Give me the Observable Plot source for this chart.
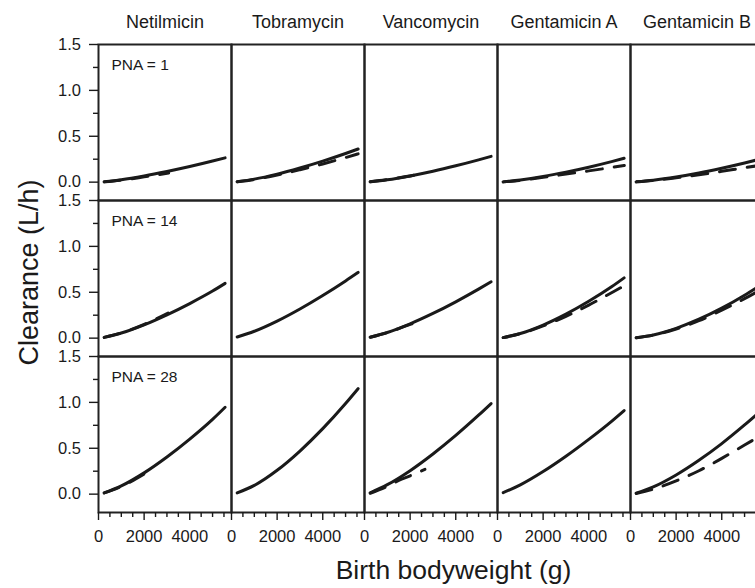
<!DOCTYPE html>
<html>
<head>
<meta charset="utf-8">
<script src="https://cdn.jsdelivr.net/npm/d3@7"></script>
<script src="https://cdn.jsdelivr.net/npm/@observablehq/plot@0.6"></script>
<style>
  html, body { margin: 0; padding: 0; background: #fff; overflow: hidden; }
</style>
</head>
<body>
<div id="chart"></div>
<script>
// ---- Data ----
const drugs = ["Netilmicin", "Tobramycin", "Vancomycin", "Gentamicin A", "Gentamicin B"];
const pnaDays = [1, 14, 28];
const bodyweight = [250, 1000, 2000, 3000, 4000, 5000, 5550];
const xMajorTicks = [0, 2000, 4000];
const xMinorTicks = [500, 1000, 1500, 2500, 3000, 3500, 4500, 5000, 5500];
const yMajorTicks = [0, 0.5, 1.0, 1.5];
const yMinorTicks = [0.25, 0.75, 1.25];

// Solid curves: clearance (L/h) at each bodyweight, rows = PNA 1, 14, 28
const netilmicinSolid = [
  [0.004, 0.026, 0.067, 0.116, 0.170, 0.230, 0.265],
  [0.008, 0.056, 0.145, 0.254, 0.377, 0.513, 0.597],
  [0.013, 0.090, 0.232, 0.405, 0.600, 0.815, 0.947]
];
const tobramycinSolid = [
  [0.005, 0.033, 0.087, 0.154, 0.229, 0.312, 0.361],
  [0.012, 0.075, 0.186, 0.318, 0.465, 0.624, 0.716],
  [0.013, 0.095, 0.260, 0.470, 0.714, 0.988, 1.150]
];
const vancomycinSolid = [
  [0.004, 0.026, 0.068, 0.119, 0.178, 0.243, 0.281],
  [0.010, 0.062, 0.156, 0.269, 0.396, 0.534, 0.614],
  [0.015, 0.103, 0.256, 0.438, 0.640, 0.860, 0.987]
];
const gentamicinASolid = [
  [0.003, 0.023, 0.061, 0.109, 0.163, 0.224, 0.260],
  [0.006, 0.051, 0.143, 0.262, 0.402, 0.560, 0.657],
  [0.017, 0.101, 0.246, 0.413, 0.597, 0.794, 0.911]
];
const gentamicinBSolid = [
  [0.003, 0.021, 0.056, 0.100, 0.152, 0.209, 0.243],
  [0.004, 0.035, 0.107, 0.206, 0.327, 0.468, 0.554],
  [0.011, 0.079, 0.209, 0.369, 0.551, 0.754, 0.872]
];

// Dashed curves: [bodyweight, clearance] pairs, rows = PNA 1, 14, 28
const netilmicinDashed = [
  [[250, 0.003], [1000, 0.022], [2000, 0.058], [3075, 0.100]],
  [[250, 0.008], [1000, 0.057], [2000, 0.150], [3050, 0.272]],
  [[250, 0.013], [1000, 0.085], [2100, 0.235]]
];
const tobramycinDashed = [
  [[250, 0.004], [1000, 0.029], [2000, 0.077], [3000, 0.135], [4000, 0.198], [5000, 0.268], [5550, 0.308]],
  [],
  []
];
const vancomycinDashed = [
  [[250, 0.004], [1000, 0.027], [2000, 0.068], [2500, 0.090]],
  [[250, 0.010], [1000, 0.060], [2000, 0.150], [2500, 0.190]],
  [[250, 0.010], [1000, 0.085], [1500, 0.150], [2000, 0.200], [2650, 0.270]]
];
const gentamicinADashed = [
  [[250, 0.003], [1000, 0.020], [2000, 0.052], [3000, 0.088], [4000, 0.123], [5000, 0.160], [5560, 0.182]],
  [[250, 0.006], [1000, 0.049], [2000, 0.133], [3000, 0.238], [4000, 0.360], [5000, 0.495], [5560, 0.572]],
  []
];
const gentamicinBDashed = [
  [[250, 0.003], [1000, 0.018], [2000, 0.047], [3000, 0.080], [4000, 0.118], [5000, 0.157], [5550, 0.178]],
  [[250, 0.004], [1000, 0.033], [2000, 0.100], [3000, 0.190], [4000, 0.305], [5000, 0.430], [5550, 0.505]],
  [[250, 0.008], [1000, 0.055], [2000, 0.145], [3000, 0.255], [4000, 0.390], [5000, 0.535], [5550, 0.615]]
];

// ---- Build tidy tables ----
const solidSeries = [netilmicinSolid, tobramycinSolid, vancomycinSolid, gentamicinASolid, gentamicinBSolid];
const dashedSeries = [netilmicinDashed, tobramycinDashed, vancomycinDashed, gentamicinADashed, gentamicinBDashed];

const solidRows = [];
solidSeries.forEach((rows, i) => rows.forEach((vals, j) => vals.forEach((v, k) =>
  solidRows.push({drug: drugs[i], pna: pnaDays[j], bw: bodyweight[k], cl: v}))));
const dashedRows = [];
dashedSeries.forEach((rows, i) => rows.forEach((pairs, j) => pairs.forEach(([b, v]) =>
  dashedRows.push({drug: drugs[i], pna: pnaDays[j], bw: b, cl: v}))));

const ink = "#1a1a1a";

const chart = Plot.plot({
  width: 755,
  height: 588,
  marginLeft: 96,
  marginRight: -10,
  marginTop: 43.3,
  marginBottom: 74.7,
  style: {fontFamily: "'Liberation Sans', Arial, Helvetica, sans-serif", fontSize: "16.5px", color: ink, background: "#fff"},
  fx: {domain: drugs, padding: 0, label: null},
  fy: {domain: pnaDays, padding: 0, axis: null, label: null},
  x: {domain: [0, 5830]},
  y: {domain: [-0.2, 1.5]},
  marks: [
    Plot.line(solidRows, {x: "bw", y: "cl", fx: "drug", fy: "pna", stroke: ink, strokeWidth: 3, curve: "monotone-x"}),
    Plot.line(dashedRows, {x: "bw", y: "cl", fx: "drug", fy: "pna", stroke: ink, strokeWidth: 3, strokeDasharray: "16,12", curve: "monotone-x"}),
    Plot.frame({stroke: "#222", strokeWidth: 2}),
    Plot.axisFx({anchor: "top", tickSize: 0, tickPadding: 16.3, fontSize: 18, label: null}),
    Plot.axisY({ticks: yMajorTicks, tickFormat: d3.format(".1f"), tickSize: 9, tickPadding: 8.5, strokeWidth: 1.4, label: null}),
    Plot.axisY({ticks: yMinorTicks, tickFormat: () => "", tickSize: 5, strokeWidth: 1.4, label: null}),
    Plot.axisX({ticks: xMajorTicks, tickFormat: d3.format("d"), tickSize: 8, tickPadding: 10, strokeWidth: 1.4, label: null}),
    Plot.axisX({ticks: xMinorTicks, tickFormat: () => "", tickSize: 5, strokeWidth: 1.4, label: null}),
    Plot.text(pnaDays, {fx: () => drugs[0], fy: d => d, text: d => `PNA = ${d}`, frameAnchor: "top-left", textAnchor: "start", lineAnchor: "bottom", dx: 13, dy: 25.5, fontSize: 15.5}),
    Plot.text(["Birth bodyweight (g)"], {fx: () => drugs[2], fy: () => pnaDays[2], text: d => d, frameAnchor: "bottom", textAnchor: "middle", lineAnchor: "bottom", dx: 22.5, dy: 66.7, fontSize: 26.5}),
    Plot.text(["Clearance (L/h)"], {fx: () => drugs[0], fy: () => pnaDays[1], text: d => d, frameAnchor: "left", textAnchor: "middle", lineAnchor: "bottom", rotate: -90, dx: -61, dy: -6, fontSize: 27})
  ]
});
document.getElementById("chart").appendChild(chart);
</script>
</body>
</html>
